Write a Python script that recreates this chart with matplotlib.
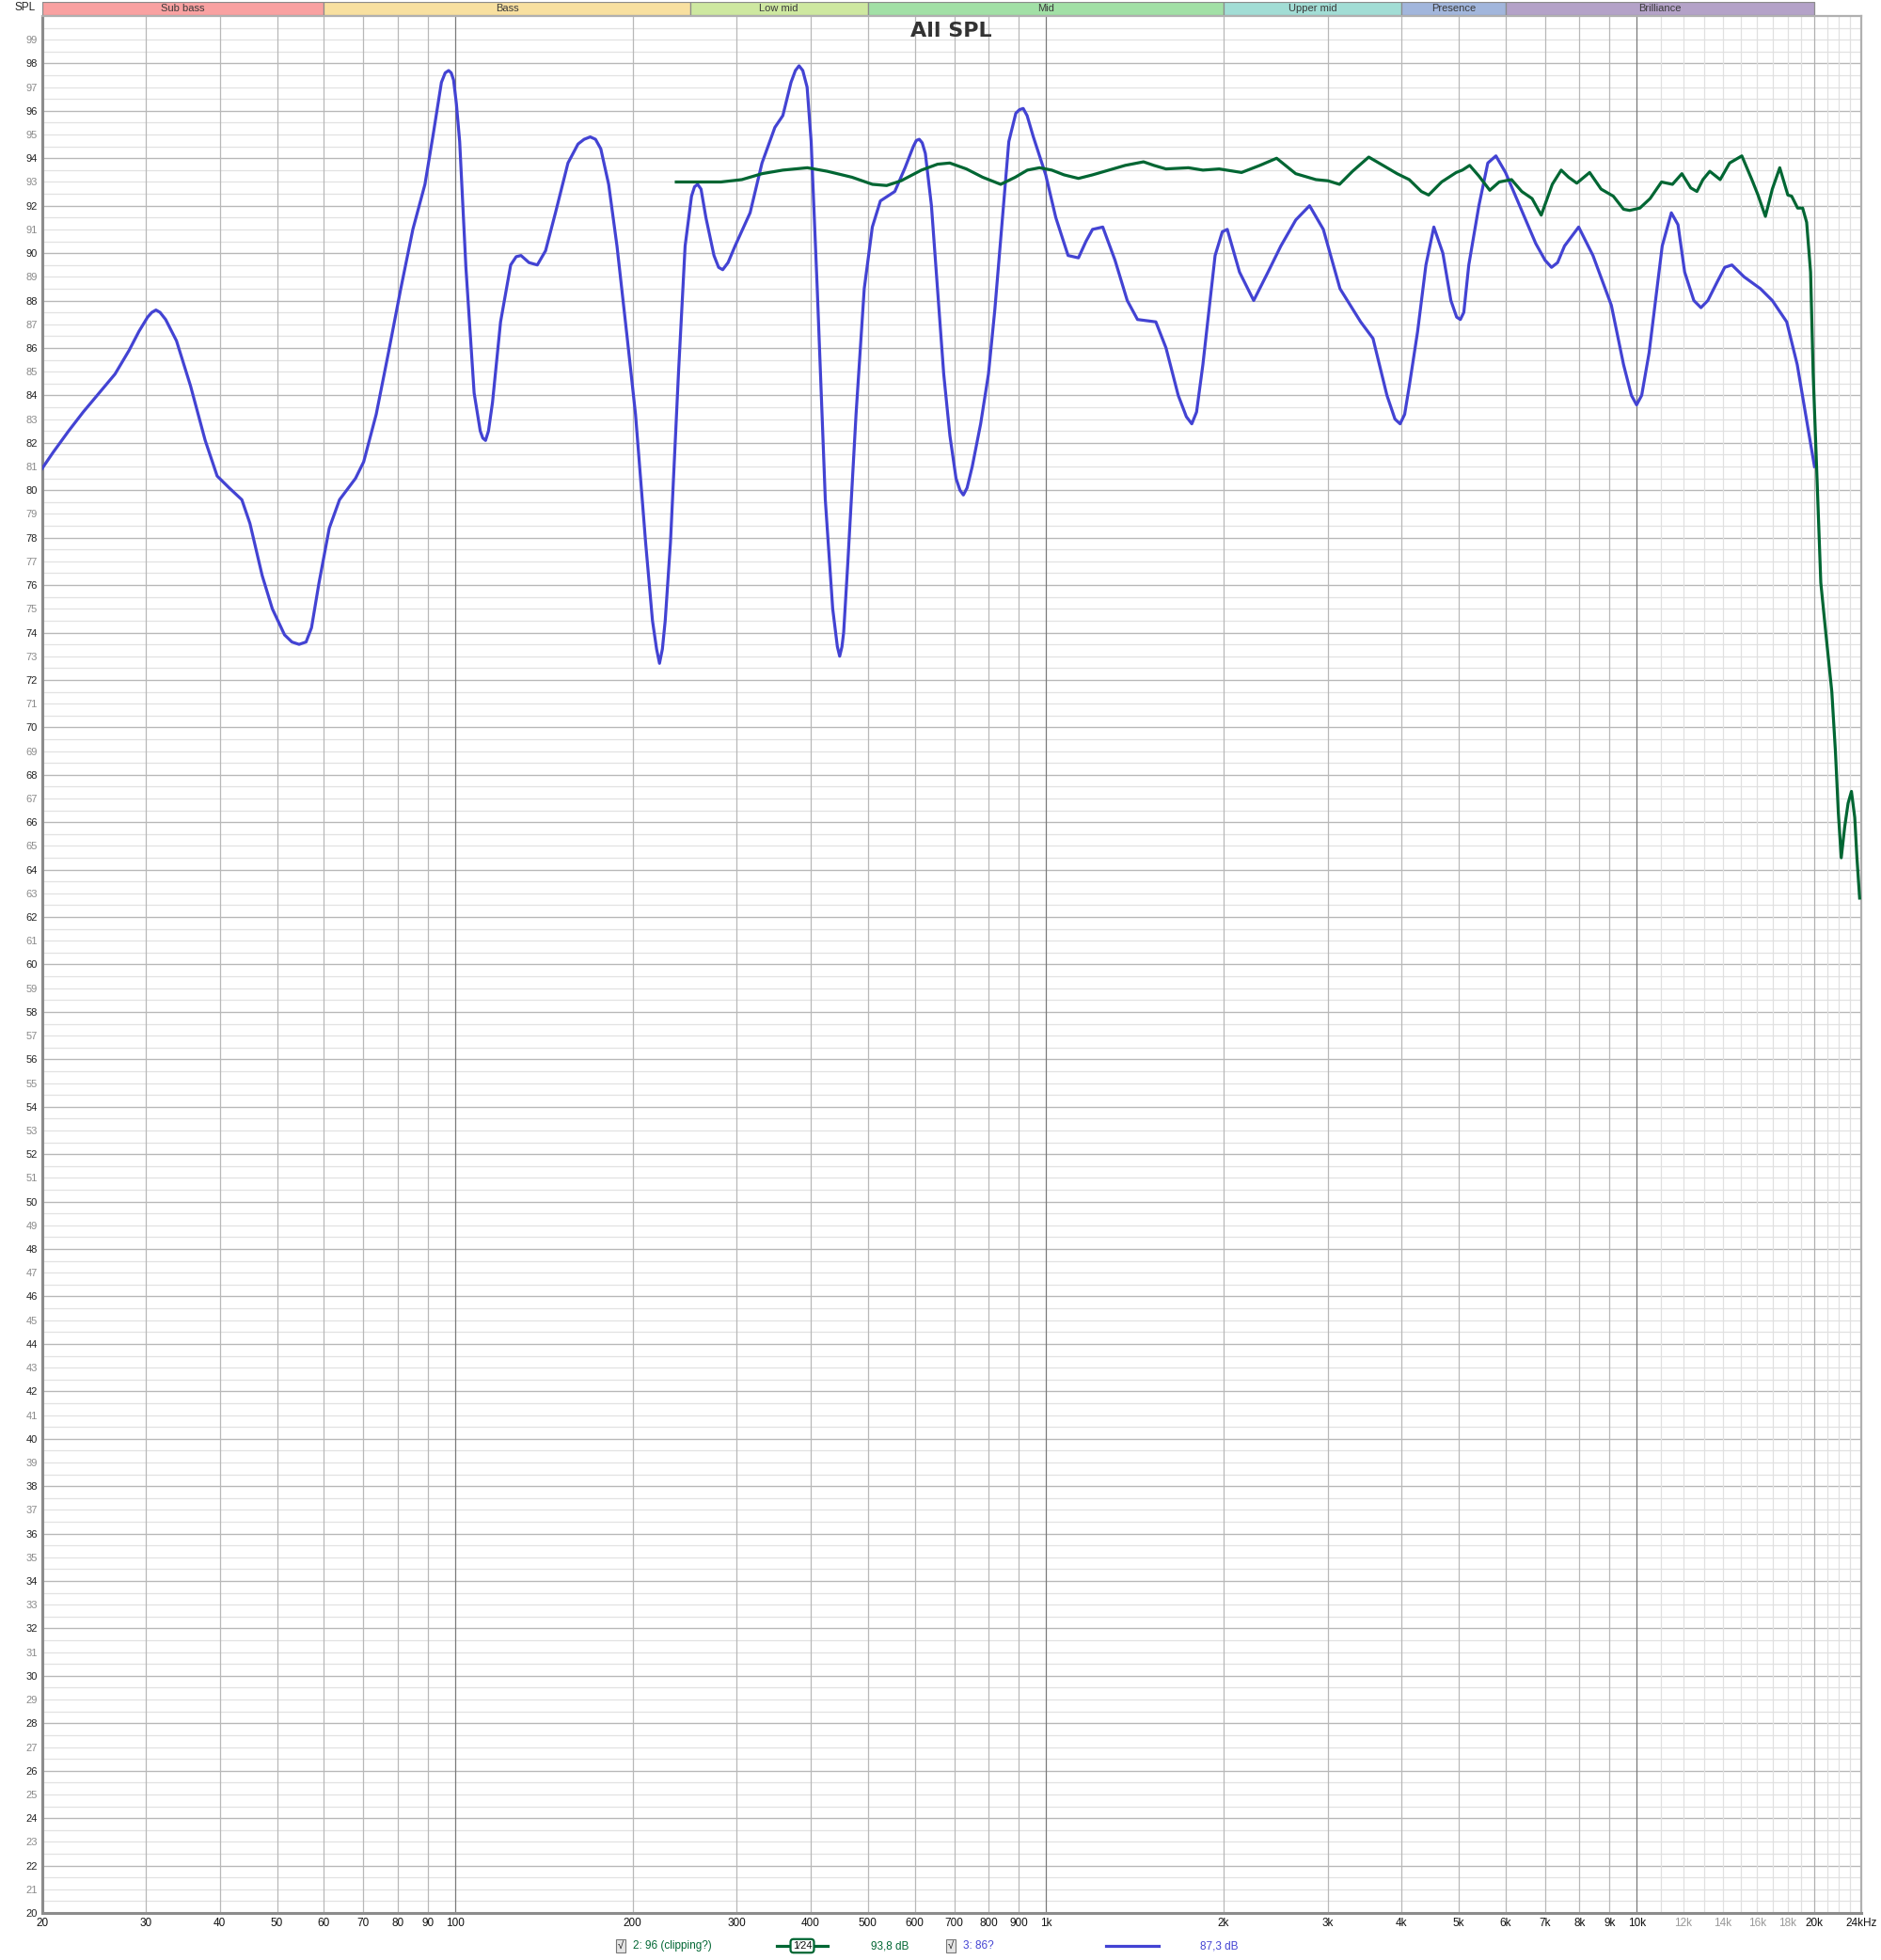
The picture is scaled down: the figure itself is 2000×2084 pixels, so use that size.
import matplotlib
matplotlib.use("Agg")
import matplotlib.pyplot as plt
from matplotlib.patches import Rectangle

plt.rcParams['font.family'] = ['Liberation Sans', 'DejaVu Sans']

# measurement 3: 86? (blue)
blue_f = [20, 20.9, 22.2, 23.5, 25.0, 26.6, 28.1, 29.2, 30.2, 30.7, 31.2, 31.7, 32.4, 33.8, 35.7,
          37.8, 39.6, 41.5, 43.6, 45.0, 47.2, 49.1, 51.5, 53, 54.5, 56, 57.2, 58.9, 61.3, 63.8, 67.9,
          70.1, 73.6, 77.2, 81.0, 84.9, 89.0, 91.9, 94.9, 96.3, 97.6, 98.6, 99.5, 100.6, 101.9, 104.4,
          107.8, 110.4, 111.5, 112.7, 114, 115.8, 119.5, 124.3, 127, 129.4, 133.5, 137.9, 142.4,
          148.0, 155.4, 161.6, 165.5, 169.5, 173, 176.6, 182.1, 188.1, 195.8, 202.2, 210.3, 216,
          219.5, 222, 224.5, 227, 231.7, 239, 245.3, 251.5, 254.5, 257.6, 261, 266, 274.5, 279.5, 284,
          290, 298, 316, 331, 348, 359, 370.6, 377, 382.4, 388, 394.6, 400.9, 410.5, 423.6, 436, 444,
          448, 452, 455, 462.6, 477.5, 493, 508.8, 525, 555.4, 578, 597, 604, 611, 618, 625.6, 640.6,
          656, 672, 688.4, 705, 716, 725.5, 736, 751, 776, 800, 820, 839, 866, 890, 903, 916, 930, 953,
          1000, 1040, 1091, 1136, 1170, 1200, 1249, 1310, 1374, 1430, 1536, 1598, 1676, 1730, 1767,
          1800, 1845, 1935, 1990, 2029, 2128, 2249, 2378, 2500, 2650, 2796, 2950, 3148, 3412, 3580,
          3780, 3900, 3979, 4050, 4130, 4260, 4400, 4538, 4700, 4850, 4960, 5032, 5100, 5200, 5409,
          5600, 5780, 6000, 6340, 6752, 7000, 7178, 7350, 7551, 7979, 8436, 9063, 9504, 9800, 10000,
          10200, 10500, 11050, 11450, 11750, 12060, 12500, 12850, 13200, 13700, 14100, 14500,
          15200, 16200, 16970, 17950, 18700, 20000]
blue_db = [80.9, 81.6, 82.5, 83.3, 84.1, 84.9, 85.9, 86.7, 87.3, 87.5, 87.6, 87.5, 87.2, 86.3, 84.4,
           82.1, 80.6, 80.1, 79.6, 78.6, 76.4, 75.0, 73.9, 73.6, 73.5, 73.6, 74.2, 76.1, 78.4, 79.6, 80.5,
           81.2, 83.2, 85.8, 88.5, 91.0, 92.9, 95.0, 97.2, 97.6, 97.7, 97.6, 97.3, 96.3, 94.7, 89.4,
           84.1, 82.5, 82.2, 82.1, 82.5, 83.7, 87.1, 89.5, 89.85, 89.9, 89.6, 89.5, 90.1,
           91.7, 93.8, 94.6, 94.8, 94.9, 94.8, 94.4, 92.9, 90.3, 86.4, 83.2, 77.8, 74.5,
           73.3, 72.7, 73.3, 74.5, 77.8, 84.9, 90.3, 92.4, 92.8, 92.9, 92.7, 91.5, 89.9, 89.4, 89.3,
           89.6, 90.3, 91.7, 93.8, 95.3, 95.8, 97.2, 97.7, 97.9, 97.7, 97.0, 94.7, 88.5, 79.6, 75.0, 73.4,
           73.0, 73.4, 74.0, 77.0, 83.2, 88.5, 91.1, 92.2, 92.6, 93.6, 94.5, 94.75, 94.8, 94.65, 94.2, 92.0,
           88.5, 84.9, 82.3, 80.5, 80.0, 79.8, 80.1, 81.0, 82.8, 84.9, 87.6, 90.6, 94.7, 95.9, 96.05, 96.1,
           95.8, 94.9,
           93.3, 91.5, 89.9, 89.8, 90.5, 91.0, 91.1, 89.7, 88.0, 87.2, 87.1, 86.0, 84.0, 83.1, 82.8,
           83.3, 85.3, 89.9, 90.9, 91.0, 89.2, 88.0, 89.2, 90.3, 91.4, 92.0, 91.0, 88.5, 87.1, 86.4,
           84.0, 83.0, 82.8, 83.2, 84.5, 86.7, 89.5, 91.1, 90.0, 88.0, 87.3, 87.2, 87.5, 89.5, 92.0,
           93.8, 94.1, 93.4, 92.0, 90.4, 89.7, 89.4, 89.6, 90.3, 91.1, 89.9, 87.8, 85.3, 84.0, 83.6,
           84.0, 85.8, 90.3, 91.7, 91.2, 89.2, 88.0, 87.7, 88.0, 88.8, 89.4, 89.5,
           89.0, 88.5, 88.0, 87.1, 85.3, 81.0]

# measurement 2: 96 (clipping?) (green)
green_f = [237, 282, 306, 331, 359, 395, 427, 470, 509, 538, 569, 616, 656, 688, 734, 782, 839, 888,
           931, 976, 1024, 1074, 1136, 1200, 1279, 1363, 1464, 1524, 1598, 1744, 1845, 1966, 2145,
           2304, 2459, 2649, 2866, 3004, 3142, 3305, 3521, 3752, 3933, 4123, 4322, 4447, 4677, 4951,
           5070, 5218, 5409, 5644, 5854, 6142, 6392, 6655, 6896, 7200, 7454, 7672, 7921, 8328, 8708,
           9134, 9504, 9734, 10130, 10540, 11020, 11500, 11930, 12350, 12650, 12950, 13300, 13850,
           14370, 15070, 15670, 16050, 16520, 16970, 17470, 18030, 18300, 18730, 19100, 19400, 19700,
           19900, 20200, 20500, 20900, 21400, 21700, 21950, 22200, 22500, 22800, 23100, 23400, 23600,
           23850]
green_db = [93.0, 93.0, 93.1, 93.35, 93.5, 93.6, 93.45, 93.2, 92.9, 92.85, 93.05, 93.5, 93.75, 93.8,
            93.55, 93.2, 92.9, 93.2, 93.5, 93.6, 93.5, 93.3, 93.15, 93.3, 93.5, 93.7, 93.85, 93.7,
            93.55, 93.6, 93.5, 93.55, 93.4, 93.7, 94.0, 93.35, 93.1, 93.05, 92.9, 93.45, 94.05, 93.65,
            93.35, 93.1, 92.6, 92.45, 93.0, 93.4, 93.5, 93.7, 93.25, 92.65, 93.0, 93.1, 92.6, 92.3,
            91.6, 92.9, 93.5, 93.2, 92.95, 93.4, 92.7, 92.4, 91.85, 91.8, 91.9, 92.3, 93.0, 92.9,
            93.35, 92.75, 92.6, 93.1, 93.45, 93.1, 93.8, 94.1, 93.1, 92.45, 91.55, 92.7, 93.6, 92.45,
            92.4, 91.9, 91.9, 91.3, 89.2, 84.9, 80.5, 76.1, 74.0, 71.5, 69.0, 66.4, 64.5, 65.8, 66.8,
            67.3, 66.2, 64.5, 62.8]

band_names = ["Sub bass", "Bass", "Low mid", "Mid", "Upper mid", "Presence", "Brilliance"]
band_edges = [20, 60, 250, 500, 2000, 4000, 6000, 20000]
band_colors = ["#f9a1a1", "#f8e0a0", "#cee8a0", "#a2e0a6", "#a2ddd5", "#a2b6dc", "#b4a2c8"]

xtick_vals = [20, 30, 40, 50, 60, 70, 80, 90, 100, 200, 300, 400, 500, 600, 700, 800, 900, 1000,
              2000, 3000, 4000, 5000, 6000, 7000, 8000, 9000, 10000, 12000, 14000, 16000, 18000,
              20000, 24000]
xtick_text = ["20", "30", "40", "50", "60", "70", "80", "90", "100", "200", "300", "400", "500",
              "600", "700", "800", "900", "1k", "2k", "3k", "4k", "5k", "6k", "7k", "8k", "9k", "10k",
              "12k", "14k", "16k", "18k", "20k", "24kHz"]

BLUE = "#4343d3"
GREEN = "#006633"
W, H = 2000, 2084

fig = plt.figure(figsize=(W / 100, H / 100), dpi=100)
L, R, T, B = 44.5, 1979, 17, 2034
ax = fig.add_axes([L / W, 1 - B / H, (R - L) / W, (B - T) / H])
ax.set_xscale("log")
ax.set_xlim(20, 24000)
ax.set_ylim(20, 100)

# grid: half-dB light lines, even-dB darker lines
y = 20.5
while y < 100:
    ax.axhline(y, color="#e2e2e2", lw=0.9, zorder=0)
    y += 0.5
for v in range(22, 100, 2):
    ax.axhline(v, color="#b8b8b8", lw=0.9, zorder=0)

vgrid = list(range(30, 100, 10)) + list(range(200, 1000, 100)) + list(range(2000, 10000, 1000))
for v in vgrid:
    ax.axvline(v, color="#b8b8b8", lw=0.9, zorder=0)
for v in [100, 1000, 10000]:
    ax.axvline(v, color="#7a7a7a", lw=0.9, zorder=0)
for v in list(range(11000, 20000, 1000)) + [21000, 22000, 23000]:
    ax.axvline(v, color="#e0e0e0", lw=0.9, zorder=0)
ax.axvline(20000, color="#b0b0b0", lw=0.9, zorder=0)

ax.plot(blue_f, blue_db, color=BLUE, lw=2.3, zorder=3, solid_joinstyle="round")
ax.plot(green_f, green_db, color=GREEN, lw=2.3, zorder=4, solid_joinstyle="round")

ax.set_xticks(xtick_vals)
ax.set_xticklabels(xtick_text)
ax.minorticks_off()
ax.tick_params(axis="x", length=0, pad=3.5, labelsize=8.5)
for lab, v in zip(ax.get_xticklabels(), xtick_vals):
    lab.set_color("#999999" if 11000 < v < 20000 else "#111111")

ax.set_yticks(range(20, 100))
ax.set_yticklabels([str(v) for v in range(20, 100)])
ax.tick_params(axis="y", length=0, pad=3.5, labelsize=8)
for lab, v in zip(ax.get_yticklabels(), range(20, 100)):
    lab.set_color("#222222" if v % 2 == 0 else "#8a8a8a")

for s in ["left", "bottom"]:
    ax.spines[s].set_color("#8c8c8c")
    ax.spines[s].set_linewidth(2.2)
for s in ["top", "right"]:
    ax.spines[s].set_color("#b0b0b0")
    ax.spines[s].set_linewidth(1.6)

ax.text(0.5, 1 - 16 / (B - T), "All SPL", transform=ax.transAxes, ha="center", va="center",
        fontsize=16, fontweight="bold", color="#333333", family=["DejaVu Sans"])

# frequency band bar
bx = fig.add_axes([L / W, 1 - 16 / H, (R - L) / W, 14.5 / H])
bx.set_xscale("log")
bx.set_xlim(20, 24000)
bx.set_ylim(0, 1)
bx.axis("off")
for i, name in enumerate(band_names):
    lo, hi = band_edges[i], band_edges[i + 1]
    bx.add_patch(Rectangle((lo, 0), hi - lo, 1, facecolor=band_colors[i], edgecolor="#8c8c8c",
                           lw=0.9))
    bx.text((lo * hi) ** 0.5, 0.48, name, ha="center", va="center", fontsize=8, color="#3a3a3a")

fig.text(27 / W, 1 - 8 / H, "SPL", ha="center", va="center", fontsize=8.5, color="#222222")

# bottom legend
ly = 1 - 2069 / H


def checkbox(x):
    fig.text(x / W, ly, "√", ha="center", va="center", fontsize=8, color="#111111",
             bbox=dict(boxstyle="square,pad=0.2", fc="#e4e4e4", ec="#777777", lw=0.8))


checkbox(660)
fig.text(673 / W, ly, "2: 96 (clipping?)", ha="left", va="center", fontsize=8.5, color=GREEN)
fig.add_artist(plt.Line2D([826 / W, 880 / W], [ly, ly], color=GREEN, lw=2.3))
fig.text(853 / W, ly, "1⁄24", ha="center", va="center", fontsize=8, color="#111111",
         bbox=dict(boxstyle="round,pad=0.2,rounding_size=0.3", fc="white", ec=GREEN, lw=1.6))
fig.text(926 / W, ly, "93,8 dB", ha="left", va="center", fontsize=8.5, color=GREEN)
checkbox(1011)
fig.text(1024 / W, ly, "3: 86?", ha="left", va="center", fontsize=8.5, color=BLUE)
fig.add_artist(plt.Line2D([1176 / W, 1232 / W], [ly, ly], color=BLUE, lw=2.3))
fig.text(1276 / W, ly, "87,3 dB", ha="left", va="center", fontsize=8.5, color=BLUE)

fig.savefig("out.png", dpi=100, facecolor="white")
